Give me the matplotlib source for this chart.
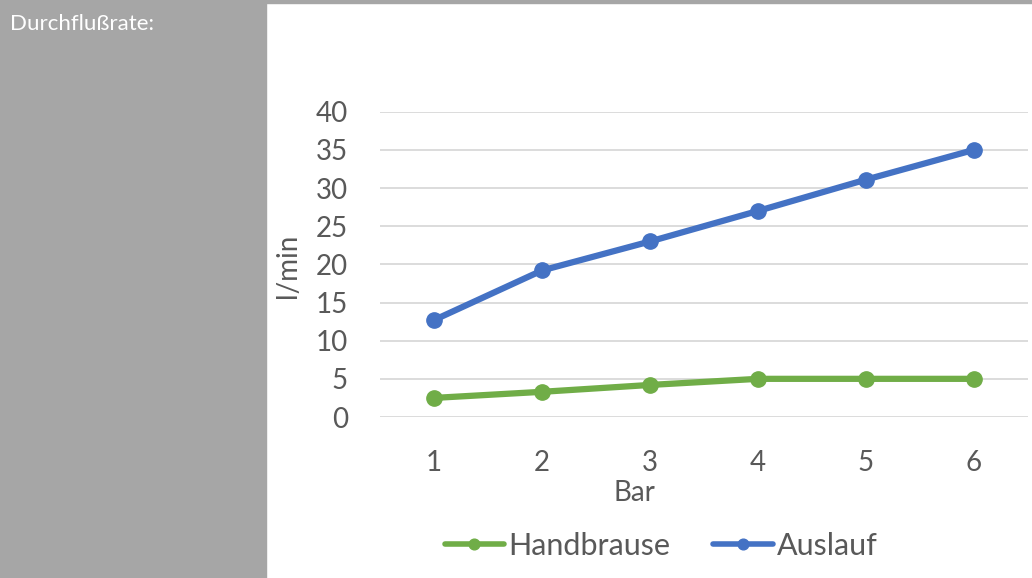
import matplotlib
matplotlib.use("Agg")
import matplotlib.pyplot as plt
import matplotlib.patches as patches

# Werte
bar = [1, 2, 3, 4, 5, 6]
handbrause = [2.5, 3.3, 4.2, 5.0, 5.0, 5.0]
auslauf = [12.7, 19.2, 23.0, 27.0, 31.1, 35.0]
y_ticks = [0, 5, 10, 15, 20, 25, 30, 35, 40]

plt.rcParams['font.family'] = ['Lato', 'DejaVu Sans']

W, H = 1032, 578
fig = plt.figure(figsize=(W / 100, H / 100), dpi=100)

# grauer Rand links und oben
fig.patches.append(patches.Rectangle((0, 0), 266 / W, 1, transform=fig.transFigure,
                                     color='#a6a6a6', zorder=0))
fig.patches.append(patches.Rectangle((0, 1 - 3 / H), 1, 3 / H, transform=fig.transFigure,
                                     color='#a6a6a6', zorder=0))
fig.text(10 / W, 1 - 24 / H, "Durchflußrate:", color='white', fontsize=16,
         va='center', ha='left')

ax = fig.add_axes([380 / W, (H - 417) / H, (1028 - 380) / W, (417 - 111.7) / H])
green = '#70ad47'
blue = '#4472c4'
ax.plot(bar, handbrause, color=green, lw=4.5, marker='o', ms=11, label='Handbrause',
        solid_capstyle='round', zorder=3, clip_on=False)
ax.plot(bar, auslauf, color=blue, lw=4.5, marker='o', ms=11, label='Auslauf',
        solid_capstyle='round', zorder=3, clip_on=False)

ax.set_xlim(0.5, 6.5)
ax.set_ylim(0, 40)
ax.set_yticks(y_ticks)
ax.set_xticks(bar)
ax.yaxis.grid(True, color='#d9d9d9', lw=1.3)
ax.set_axisbelow(True)
for s in ax.spines.values():
    s.set_visible(False)
ax.tick_params(axis='both', length=0, labelsize=20, labelcolor='#595959')
ax.tick_params(axis='y', pad=23)
ax.tick_params(axis='x', pad=24)

fig.text(634 / W, 1 - 493 / H, "Bar", fontsize=20, color='#595959', ha='center', va='center')
fig.text(288 / W, 1 - 266 / H, "l/min", fontsize=20, color='#595959', ha='center',
         va='center', rotation=90)

leg = fig.legend(loc='center', bbox_to_anchor=(661 / W, 1 - 546 / H), ncol=2,
                 frameon=False, fontsize=22, handlelength=1.95, handletextpad=0.13,
                 columnspacing=1.4, markerscale=0.7)
for t in leg.get_texts():
    t.set_color('#595959')
for ln in leg.get_lines():
    ln.set_linewidth(4)

fig.savefig("out.png", dpi=100)
